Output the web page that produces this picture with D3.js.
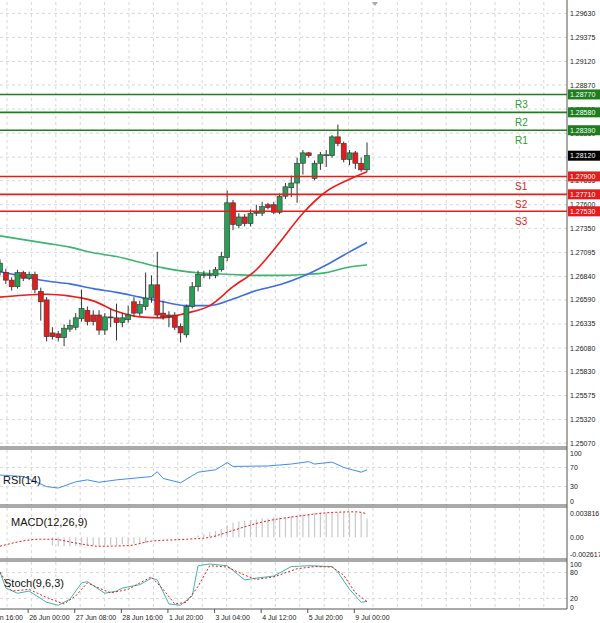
<!DOCTYPE html>
<html><head><meta charset="utf-8">
<script src="https://cdn.jsdelivr.net/npm/d3@7"></script>
<style>body{margin:0;background:#fff}svg{display:block}text{font-family:"Liberation Sans",Arial,sans-serif}</style>
</head><body><div id="chart"></div>
<script>
// 4h candles, oldest first
const opens  = [1.2689,1.2688,1.2680,1.2673,1.2688,1.2682,1.2686,1.2668,1.2659,1.2624,1.2623,1.2619,1.2628,1.2630,1.2639,1.2648,1.2643,1.2643,1.2627,1.2641,1.2640,1.2635,1.2638,1.2657,1.2645,1.2652,1.2661,1.2675,1.2645,1.2643,1.2643,1.2631,1.2622,1.2652,1.2673,1.2685,1.2685,1.2685,1.2691,1.2704,1.2762,1.2738,1.2747,1.2740,1.2751,1.2751,1.2760,1.2760,1.2752,1.2769,1.2778,1.2783,1.2804,1.2815,1.2788,1.2804,1.2812,1.2812,1.2832,1.2825,1.2808,1.2815,1.2804,1.2797];
const highs  = [1.2702,1.2692,1.2683,1.2691,1.2690,1.2689,1.2689,1.2672,1.2662,1.2630,1.2626,1.2633,1.2638,1.2645,1.2670,1.2652,1.2648,1.2648,1.2645,1.2650,1.2655,1.2645,1.2653,1.2662,1.2658,1.2688,1.2685,1.2710,1.2658,1.2647,1.2646,1.2634,1.2654,1.2678,1.2690,1.2690,1.2691,1.2694,1.2710,1.2775,1.2765,1.2751,1.2750,1.2755,1.2760,1.2763,1.2762,1.2763,1.2772,1.2783,1.2791,1.2810,1.2818,1.2816,1.2807,1.2816,1.2818,1.2834,1.2845,1.2827,1.2818,1.2817,1.2810,1.2826];
const lows   = [1.2685,1.2676,1.2669,1.2671,1.2679,1.2680,1.2666,1.2637,1.2615,1.2617,1.2615,1.2610,1.2625,1.2627,1.2636,1.2632,1.2632,1.2622,1.2622,1.2630,1.2616,1.2630,1.2635,1.2641,1.2642,1.2648,1.2656,1.2640,1.2638,1.2630,1.2627,1.2614,1.2619,1.2650,1.2668,1.2682,1.2681,1.2682,1.2689,1.2700,1.2733,1.2735,1.2737,1.2737,1.2748,1.2748,1.2755,1.2750,1.2750,1.2766,1.2768,1.2762,1.2792,1.2810,1.2786,1.2797,1.2800,1.2810,1.2822,1.2805,1.2802,1.2798,1.2795,1.2795];
const closes = [1.2698,1.2680,1.2673,1.2688,1.2682,1.2686,1.2670,1.2657,1.2620,1.2620,1.2619,1.2629,1.2632,1.2640,1.2650,1.2636,1.2636,1.2627,1.2641,1.2640,1.2635,1.2640,1.2643,1.2645,1.2654,1.2661,1.2675,1.2643,1.2641,1.2641,1.2630,1.2624,1.2652,1.2673,1.2686,1.2686,1.2686,1.2691,1.2705,1.2762,1.2739,1.2747,1.2740,1.2751,1.2752,1.2758,1.2757,1.2752,1.2769,1.2779,1.2783,1.2804,1.2815,1.2812,1.2804,1.2813,1.2813,1.2832,1.2825,1.2808,1.2815,1.2804,1.2797,1.2812];
// moving averages, read every 4 bars
const maIdx   = [0,4,8,12,16,20,24,28,32,36,40,44,48,52,56,60,63];
const maFast  = [1.2662,1.2664,1.2665,1.2663,1.2658,1.2647,1.2641,1.2640,1.2645,1.2653,1.2673,1.2691,1.2720,1.2751,1.2774,1.2787,1.2795];
const maMid   = [1.2689,1.2684,1.2679,1.2676,1.2671,1.2667,1.2662,1.2657,1.2653,1.2653,1.2660,1.2669,1.2675,1.2684,1.2696,1.2710,1.2720];
const maSlow  = [1.2727,1.2723,1.2719,1.2715,1.2709,1.2705,1.2699,1.2693,1.2689,1.2687,1.2686,1.2685,1.2685,1.2686,1.2688,1.2694,1.2696];
const pivotNames = ['R3','R2','R1','S1','S2','S3'];
const pivotVals  = [1.28770,1.28580,1.28390,1.27900,1.27710,1.27530];
const lastPrice = 1.28120;
const priceTicks = [1.29630,1.29375,1.29120,1.28870,1.28615,1.28360,1.28105,1.27855,1.27600,1.27350,1.27095,1.26840,1.26590,1.26335,1.26080,1.25830,1.25575,1.25320,1.25070];
const rsiIdx = [0,4,8,10,13,15,17,20,26,27,28,31,34,37,39,40,46,50,53,54,57,59,62,63];
const rsiVal = [54,51,30,27,40,44,39,44,51,61,47,38,60,65,80,72,73,77,82,77,81,70,60,65];
const macdHist = [0,0,0,0,0,0,0,0,0,-0.0013,-0.0014,-0.0014,-0.0014,-0.0014,-0.0013,-0.0013,-0.0013,-0.0013,-0.0012,-0.0012,-0.0012,-0.0011,-0.0011,-0.0010,-0.0010,-0.0009,0,0,0,0,0,0,0,0,0.0003,0.0005,0.0008,0.0010,0.0013,0.0019,0.0023,0.0025,0.0026,0.0027,0.0028,0.0030,0.0030,0.0031,0.0031,0.0032,0.0033,0.0034,0.0036,0.0037,0.0038,0.0039,0.0039,0.0039,0.0039,0.0039,0.0039,0.0039,0.0038,0.0029];
const sigIdx = [0,7,9,13,17,22,26,32,36,39,45,51,57,61,63];
const sigVal = [-0.0014,-0.0003,-0.0003,-0.0009,-0.0014,-0.0013,-0.0006,-0.0003,0,0.0008,0.0024,0.0033,0.0039,0.0040,0.0037];
const stMainIdx = [0,1,3,5,8,10,12,14,15,18,20,21,24,26,27,29,31,33,34,36,39,42,44,47,50,53,57,58,60,62,63];
const stMainVal = [81,44,32,37,11,4,18,56,59,32,37,44,52,67,63,7,4,26,96,100,96,63,67,72,94,96,94,81,41,11,13];
const stSigIdx = [0,2,5,8,11,13,15,17,19,22,24,26,28,30,32,34,36,39,42,44,47,51,54,57,59,61,63];
const stSigVal = [81,37,41,22,7,26,56,44,33,41,56,70,41,7,11,48,96,93,74,64,70,89,94,93,74,33,13];
const timeIdx = [-3,5,13,21,29,37,45,53,61];
const timeLbl = ['25 Jun 16:00','26 Jun 00:00','27 Jun 08:00','28 Jun 16:00','1 Jul 20:00','3 Jul 04:00','4 Jul 12:00','5 Jul 20:00','9 Jul 00:00'];

const W = 600, H = 623, R = 567;
const svg = d3.select('#chart').append('svg').attr('width', W).attr('height', H);
const x = d3.scaleLinear().domain([0, 63]).range([0, 367]);
const y = d3.scaleLinear().domain([1.2887, 1.2608]).range([85, 348]);
const green = '#2a9d57', red = '#e51c1c';
const grid = '#d8d8d8';
const AF = 7;
svg.append('clipPath').attr('id', 'c').append('rect').attr('width', R).attr('height', H);
const root = svg.append('g').attr('clip-path', 'url(#c)');

const panels = [[0, 448], [448, 506], [506, 560], [560, 609]];
const vx = d3.range(0, R, 24.4);
panels.forEach(([t, b]) => {
  root.selectAll(null).data(vx).join('line').attr('x1', d => d + 7).attr('x2', d => d + 7)
    .attr('y1', t + 2).attr('y2', b - 1).attr('stroke', grid).attr('stroke-dasharray', '3,3');
});
root.selectAll(null).data(priceTicks).join('line').attr('x1', 0).attr('x2', R)
  .attr('y1', d => y(d)).attr('y2', d => y(d)).attr('stroke', grid).attr('stroke-dasharray', '3,3');
svg.selectAll(null).data(priceTicks).join('text').attr('x', 570).attr('y', d => y(d) + 2.5)
  .attr('font-size', AF).attr('fill', '#222').text(d => d.toFixed(5));

const maLine = arr => d3.line().x((d, i) => x(maIdx[i])).y(d => y(d)).curve(d3.curveMonotoneX)(arr);
root.append('path').attr('d', maLine(maSlow)).attr('fill', 'none').attr('stroke', '#3cb56e').attr('stroke-width', 1.6);
root.append('path').attr('d', maLine(maMid)).attr('fill', 'none').attr('stroke', '#3f6ee0').attr('stroke-width', 1.6);
root.append('path').attr('d', maLine(maFast)).attr('fill', 'none').attr('stroke', '#ee1c1c').attr('stroke-width', 1.6);

const bars = d3.range(opens.length);
root.selectAll(null).data(bars).join('line').attr('x1', i => x(i)).attr('x2', i => x(i))
  .attr('y1', i => y(highs[i])).attr('y2', i => y(lows[i])).attr('stroke', '#333');
root.selectAll(null).data(bars).join('rect').attr('x', i => x(i) - 2.5).attr('width', 5)
  .attr('y', i => y(Math.max(opens[i], closes[i])))
  .attr('height', i => Math.max(1, Math.abs(y(opens[i]) - y(closes[i]))))
  .attr('fill', i => closes[i] >= opens[i] ? green : red).attr('stroke', '#333').attr('stroke-width', 0.6);

pivotVals.forEach((v, k) => {
  const isR = pivotNames[k][0] === 'R', c = isR ? '#1e7d1e' : red;
  svg.append('line').attr('x1', 0).attr('x2', R).attr('y1', y(v)).attr('y2', y(v)).attr('stroke', c).attr('stroke-width', 1.6);
  svg.append('text').attr('x', 515).attr('y', y(v) + 14).attr('font-size', 10).attr('fill', isR ? '#2f9a2f' : red).text(pivotNames[k]);
  svg.append('rect').attr('x', R + 1).attr('y', y(v) - 5).attr('width', 32).attr('height', 10).attr('fill', c);
  svg.append('text').attr('x', R + 3).attr('y', y(v) + 2.5).attr('font-size', AF).attr('fill', '#fff').text(v.toFixed(5));
});
svg.append('rect').attr('x', R + 1).attr('y', y(lastPrice) - 5).attr('width', 32).attr('height', 10).attr('fill', '#000');
svg.append('text').attr('x', R + 3).attr('y', y(lastPrice) + 2.5).attr('font-size', AF).attr('fill', '#fff').text(lastPrice.toFixed(5));

// RSI
const yr = d3.scaleLinear().domain([0, 100]).range([501, 453]);
[70, 30].forEach(v => root.append('line').attr('x1', 0).attr('x2', R).attr('y1', yr(v)).attr('y2', yr(v)).attr('stroke', grid).attr('stroke-dasharray', '3,3'));
root.append('path').attr('d', d3.line().x((d, i) => x(rsiIdx[i])).y(d => yr(d))(rsiVal))
  .attr('fill', 'none').attr('stroke', '#3d8ef0').attr('stroke-width', 1);
[[100, '100'], [70, '70'], [30, '30'], [0, '0']].forEach(([v, t]) =>
  svg.append('text').attr('x', 570).attr('y', yr(v) + 2.5).attr('font-size', AF).attr('fill', '#222').text(t));
svg.append('text').attr('x', 3).attr('y', 484).attr('font-size', 11).attr('fill', '#111').text('RSI(14)');

// MACD
const ym = d3.scaleLinear().domain([-0.002617, 0.003816]).range([554, 513]);
root.selectAll(null).data(bars.filter(i => macdHist[i] !== 0)).join('line')
  .attr('x1', i => x(i)).attr('x2', i => x(i)).attr('y1', ym(0)).attr('y2', i => ym(macdHist[i]))
  .attr('stroke', '#c8c8c8').attr('stroke-width', 1.2);
root.append('path').attr('d', d3.line().x((d, i) => x(sigIdx[i])).y(d => ym(d)).curve(d3.curveMonotoneX)(sigVal))
  .attr('fill', 'none').attr('stroke', red).attr('stroke-width', 1).attr('stroke-dasharray', '2,2');
[[0.003816, '0.003816'], [0, '0.00'], [-0.002617, '-0.002617']].forEach(([v, t]) =>
  svg.append('text').attr('x', 570).attr('y', ym(v) + 2.5).attr('font-size', AF).attr('fill', '#222').text(t));
svg.append('text').attr('x', 11).attr('y', 526).attr('font-size', 11).attr('fill', '#111').text('MACD(12,26,9)');

// Stochastic
const ys = d3.scaleLinear().domain([0, 100]).range([607, 564]);
[80, 20].forEach(v => root.append('line').attr('x1', 0).attr('x2', R).attr('y1', ys(v)).attr('y2', ys(v)).attr('stroke', grid).attr('stroke-dasharray', '3,3'));
root.append('path').attr('d', d3.line().x((d, i) => x(stMainIdx[i])).y(d => ys(d))(stMainVal))
  .attr('fill', 'none').attr('stroke', '#3fb6a8').attr('stroke-width', 1);
root.append('path').attr('d', d3.line().x((d, i) => x(stSigIdx[i])).y(d => ys(d))(stSigVal))
  .attr('fill', 'none').attr('stroke', red).attr('stroke-width', 1).attr('stroke-dasharray', '2,2');
[[100, '100'], [80, '80'], [20, '20'], [0, '0']].forEach(([v, t]) =>
  svg.append('text').attr('x', 570).attr('y', ys(v) + 2.5).attr('font-size', AF).attr('fill', '#222').text(t));
svg.append('text').attr('x', 4).attr('y', 587).attr('font-size', 11).attr('fill', '#111').text('Stoch(9,6,3)');

// frames
panels.slice(1).forEach(([t]) => {
  svg.append('line').attr('x1', 0).attr('x2', R).attr('y1', t - 1).attr('y2', t - 1).attr('stroke', '#555');
  svg.append('line').attr('x1', 0).attr('x2', R).attr('y1', t + 1).attr('y2', t + 1).attr('stroke', '#555');
});
svg.append('line').attr('x1', 0).attr('x2', R).attr('y1', 609).attr('y2', 609).attr('stroke', '#555');
svg.append('line').attr('x1', R).attr('x2', R).attr('y1', 0).attr('y2', 609).attr('stroke', '#555');
svg.append('path').attr('d', 'M372,2 L378,2 L375,6 Z').attr('fill', '#aaa');

// time axis
svg.selectAll(null).data(timeIdx).join('line').attr('x1', i => x(i) - 1).attr('x2', i => x(i) - 1)
  .attr('y1', 609).attr('y2', 613).attr('stroke', '#555');
svg.selectAll(null).data(timeIdx).join('text').attr('x', i => x(i)).attr('y', 620)
  .attr('font-size', AF).attr('fill', '#222').text((i, k) => timeLbl[k]);
</script></body></html>
